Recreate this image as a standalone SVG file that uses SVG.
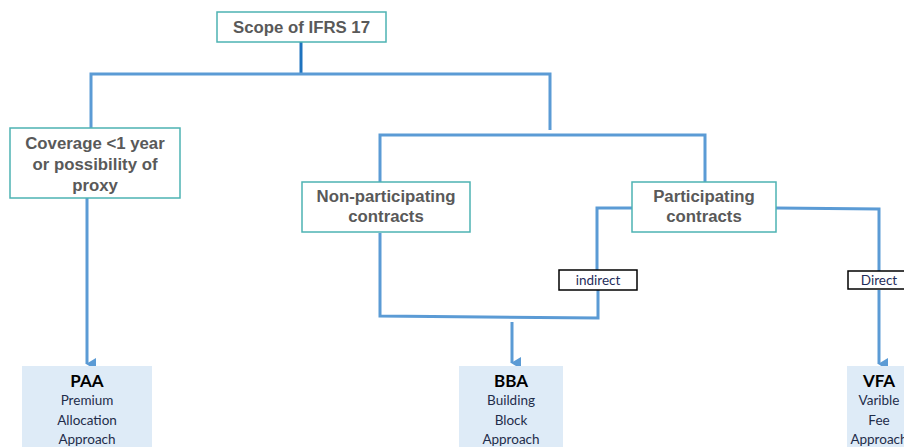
<svg xmlns="http://www.w3.org/2000/svg" width="904" height="447" viewBox="0 0 904 447">
<defs>
<marker id="ah" markerWidth="12" markerHeight="12" refX="6" refY="9" orient="auto" markerUnits="userSpaceOnUse" viewBox="0 0 12 12">
<path d="M0,0 L12,0 L6,10 Z" fill="#5b9bd5"/>
</marker>
<style>
.box{fill:#fff;stroke:#4db3b3;stroke-width:1.5}
.t{font-family:"Liberation Sans",Arial,sans-serif;font-weight:bold;font-size:16.8px;fill:#595959;text-anchor:middle}
.lbl{fill:#fff;stroke:#000;stroke-width:1.5}
.lt{font-family:"Lato","Open Sans",sans-serif;font-size:13.5px;fill:#1f2d5a;text-anchor:middle}
.res{fill:#deebf7}
.rh{font-family:"Lato","Open Sans",sans-serif;font-weight:bold;font-size:17px;fill:#000;text-anchor:middle}
.rt{font-family:"Lato","Open Sans",sans-serif;font-size:13.5px;fill:#1f2d4a;text-anchor:middle}
.c{fill:none;stroke:#5b9bd5;stroke-width:3}
</style>
</defs>
<rect width="904" height="447" fill="#fff"/>
<g id="connectors">
<line x1="301" y1="42" x2="301" y2="74" stroke="#1e73be" stroke-width="3"/>
<polyline class="c" points="91,128 91,74 550,74 550,130"/>
<polyline class="c" points="380,182 380,135 705,135 705,182"/>
<polyline class="c" points="632,208 597,208 597,270"/>
<polyline class="c" points="776,208 879,209 879,271"/>
<polyline class="c" points="380,233 380,316 598,318 598,290"/>
<line class="c" x1="512" y1="322" x2="512" y2="363" marker-end="url(#ah)"/>
<line class="c" x1="87" y1="198" x2="87" y2="364" marker-end="url(#ah)"/>
<line class="c" x1="879" y1="290" x2="879" y2="364" marker-end="url(#ah)"/>
</g>
<g id="scope">
<rect class="box" x="217" y="12" width="169" height="30"/>
<text class="t" x="301.5" y="33">Scope of IFRS 17</text>
</g>
<g id="coverage">
<rect class="box" x="10" y="128" width="170" height="70"/>
<text class="t" x="95" y="149">Coverage &lt;1 year</text>
<text class="t" x="95" y="170">or possibility of</text>
<text class="t" x="95" y="191">proxy</text>
</g>
<g id="nonpart">
<rect class="box" x="302" y="182" width="168" height="50"/>
<text class="t" x="386" y="202">Non-participating</text>
<text class="t" x="386" y="222">contracts</text>
</g>
<g id="part">
<rect class="box" x="632" y="182" width="144" height="50"/>
<text class="t" x="704" y="202">Participating</text>
<text class="t" x="704" y="222">contracts</text>
</g>
<g id="indirect">
<rect class="lbl" x="559" y="270" width="78" height="20"/>
<text class="lt" x="598" y="285">indirect</text>
</g>
<g id="direct">
<rect class="lbl" x="848" y="271" width="60" height="18"/>
<text class="lt" x="879" y="285">Direct</text>
</g>
<g id="paa">
<rect class="res" x="22" y="366" width="130" height="81"/>
<text class="rh" x="87" y="387">PAA</text>
<text class="rt" x="87" y="405">Premium</text>
<text class="rt" x="87" y="425">Allocation</text>
<text class="rt" x="87" y="444">Approach</text>
</g>
<g id="bba">
<rect class="res" x="459" y="366" width="104" height="81"/>
<text class="rh" x="511" y="387">BBA</text>
<text class="rt" x="511" y="405">Building</text>
<text class="rt" x="511" y="425">Block</text>
<text class="rt" x="511" y="444">Approach</text>
</g>
<g id="vfa">
<rect class="res" x="847" y="366" width="62" height="81"/>
<text class="rh" x="879" y="387">VFA</text>
<text class="rt" x="879" y="405">Varible</text>
<text class="rt" x="879" y="425">Fee</text>
<text class="rt" x="879" y="444">Approach</text>
</g>
</svg>
